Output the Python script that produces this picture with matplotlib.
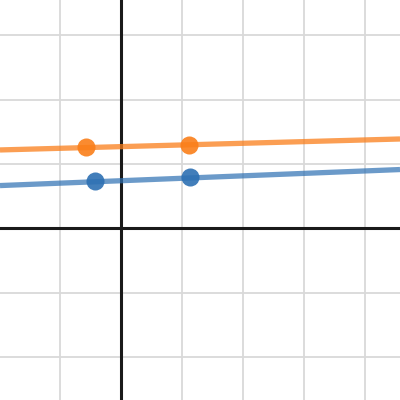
import matplotlib
matplotlib.use("Agg")
import matplotlib.pyplot as plt
import numpy as np

# data
orange_x = [-0.58, 1.11]
orange_y = [1.26, 1.29]
blue_x = [-0.43, 1.12]
blue_y = [0.73, 0.79]
orange_line = (0.026, 1.27)   # slope, intercept
blue_line = (0.038, 0.74)

xlim = (-1.99, 4.57)
ylim = (-2.67, 3.55)

fig = plt.figure(figsize=(4, 4), dpi=100)
ax = fig.add_axes([0, 0, 1, 1])
ax.set_xlim(*xlim)
ax.set_ylim(*ylim)

for gx in range(-2, 5):
    if gx != 0:
        ax.axvline(gx, color="#d9d9d9", lw=1.3, zorder=0)
for gy in range(-3, 4):
    if gy != 0:
        ax.axhline(gy, color="#d9d9d9", lw=1.3, zorder=0)
ax.axhline(0, color="#1a1a1a", lw=2.2, zorder=1)
ax.axvline(0, color="#1a1a1a", lw=2.2, zorder=1)

xs = np.array(xlim)
ax.plot(xs, orange_line[0] * xs + orange_line[1], color="#fa7e19", alpha=0.75, lw=3.8, zorder=2, solid_capstyle="butt")
ax.plot(xs, blue_line[0] * xs + blue_line[1], color="#2d70b3", alpha=0.7, lw=3.8, zorder=2, solid_capstyle="butt")
ax.plot(orange_x, orange_y, "o", color="#fa7e19", ms=13, mew=0, alpha=0.9, zorder=3)
ax.plot(blue_x, blue_y, "o", color="#2d70b3", ms=13, mew=0, alpha=0.9, zorder=3)

ax.axis("off")
fig.savefig("out.png", dpi=100)
